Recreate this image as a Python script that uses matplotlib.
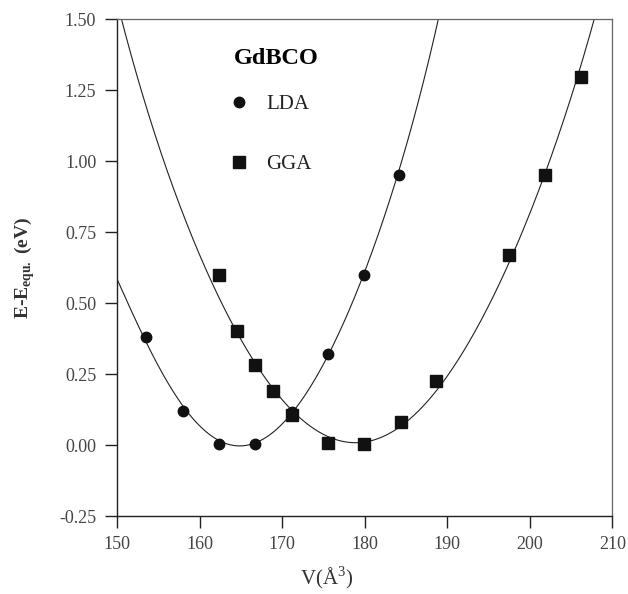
import numpy as np
import matplotlib
matplotlib.use('Agg')
import matplotlib.pyplot as plt
from matplotlib.ticker import FixedLocator, FixedFormatter
from numpy.polynomial import Polynomial

# ---- data ----
lda_v = [153.5, 158.0, 162.3, 166.7, 171.2, 175.5, 179.9, 184.2]
lda_e = [0.38, 0.12, 0.005, 0.005, 0.115, 0.32, 0.60, 0.95]
gga_v = [162.3, 164.5, 166.7, 168.9, 171.2, 175.5, 179.9, 184.4, 188.6, 197.5, 201.8, 206.2]
gga_e = [0.60, 0.40, 0.28, 0.19, 0.105, 0.007, 0.005, 0.08, 0.225, 0.67, 0.95, 1.295]

# fitted curves
lda_fit_v = [150.0, 151.6, 153.4, 155.2, 157.9, 159.9, 162.1, 164.3, 166.5, 168.9,
             171.2, 172.3, 173.8, 175.4, 177.4, 179.8, 181.8, 184.2, 185.9, 187.5, 188.9]
lda_fit_e = [0.58, 0.486, 0.375, 0.272, 0.125, 0.066, 0.022, 0.01, 0.012, 0.045,
             0.11, 0.148, 0.212, 0.305, 0.44, 0.598, 0.762, 0.965, 1.143, 1.325, 1.50]
gga_fit_v = [150.6, 151.8, 153.2, 154.4, 155.8, 157.3, 158.9, 160.3, 161.5, 162.9,
             164.5, 166.7, 168.9, 171.2, 173.4, 175.8, 178.2, 179.8, 182.2, 184.5,
             186.7, 188.9, 191.3, 193.9, 195.7, 197.6, 199.6, 201.6, 203.6, 205.4,
             206.4, 207.8]
gga_fit_e = [1.50, 1.365, 1.22, 1.10, 0.98, 0.865, 0.755, 0.66, 0.58, 0.49,
             0.398, 0.285, 0.195, 0.115, 0.06, 0.025, 0.01, 0.012, 0.03, 0.075,
             0.134, 0.204, 0.30, 0.42, 0.52, 0.645, 0.79, 0.945, 1.11, 1.265,
             1.352, 1.50]

x_ticks = [150, 160, 170, 180, 190, 200, 210]
y_ticks = [-0.25, 0.00, 0.25, 0.50, 0.75, 1.00, 1.25, 1.50]
y_tick_labels = ["-0.25", "0.00", "0.25", "0.50", "0.75", "1.00", "1.25", "1.50"]

plt.rcParams['font.family'] = ['Liberation Serif', 'DejaVu Serif']
plt.rcParams['mathtext.fontset'] = 'custom'
plt.rcParams['mathtext.rm'] = 'Liberation Serif'
plt.rcParams['mathtext.bf'] = 'Liberation Serif:bold'

fig = plt.figure(figsize=(6.28, 5.94), dpi=100)
ax = fig.add_axes([0.1863, 0.1313, 0.789, 0.8367])

# smooth the traced curves with a least-squares polynomial through the traced values
for fv, fe in ((lda_fit_v, lda_fit_e), (gga_fit_v, gga_fit_e)):
    p = Polynomial.fit(fv, fe, 6)
    xs = np.linspace(fv[0] - 0.3, fv[-1] + 0.3, 600)
    ax.plot(xs, p(xs), color='#222222', lw=0.8, zorder=2)

ax.plot(lda_v, lda_e, 'o', color='#111111', ms=7.5, ls='none', label='LDA', zorder=3)
ax.plot(gga_v, gga_e, 's', color='#111111', ms=8.5, ls='none', label='GGA', zorder=3)

ax.set_xlim(150, 210)
ax.set_ylim(-0.25, 1.5)
ax.xaxis.set_major_locator(FixedLocator(x_ticks))
ax.yaxis.set_major_locator(FixedLocator(y_ticks))
ax.yaxis.set_major_formatter(FixedFormatter(y_tick_labels))
ax.tick_params(axis='both', direction='out', length=8.5, width=1, labelsize=13,
               labelcolor='#444444', color='#222222', top=False, right=False)
ax.tick_params(axis='y', pad=6.5)
ax.tick_params(axis='x', pad=6)

for s in ('left', 'bottom'):
    ax.spines[s].set_color('#222222')
    ax.spines[s].set_linewidth(1.0)
for s in ('top', 'right'):
    ax.spines[s].set_color('#666666')
    ax.spines[s].set_linewidth(0.9)

ax.set_xlabel(r'V($\mathrm{\AA}^3$)', fontsize=15, color='#333333')
ax.xaxis.set_label_coords(0.424, -0.097)
ax.set_ylabel(r'E-E$_{\mathbf{equ.}}$ (eV)', fontsize=14, fontweight='bold', color='#333333')
ax.yaxis.set_label_coords(-0.162, 0.5)

leg = ax.legend(loc='upper left', bbox_to_anchor=(0.22, 0.958), frameon=False,
                title='GdBCO', alignment='left', fontsize=15, labelspacing=1.95,
                handletextpad=1.06, handlelength=0.48, borderaxespad=0)
leg.get_title().set_fontweight('bold')
leg.get_title().set_fontsize(17.5)
leg._legend_box.sep = 18
for t in leg.get_texts():
    t.set_color('#222222')

fig.savefig('out.png', dpi=100, facecolor='white')
